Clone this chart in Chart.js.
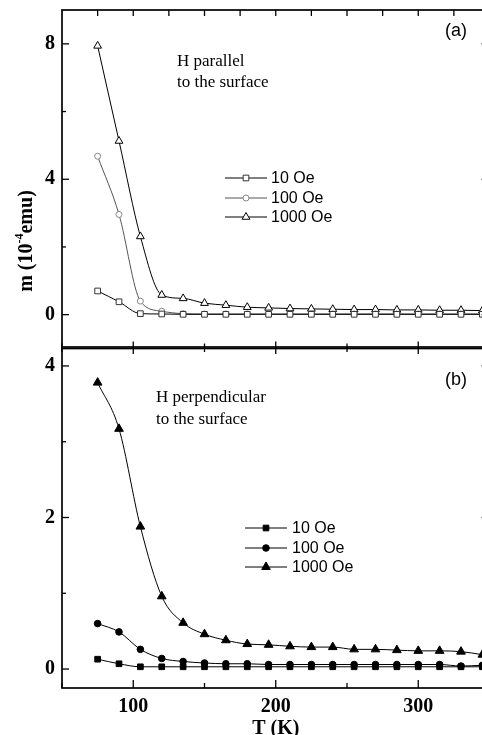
<!DOCTYPE html>
<html><head><meta charset="utf-8">
<script src="https://cdn.jsdelivr.net/npm/chart.js@4.4.0/dist/chart.umd.min.js"></script>
<style>
html,body{margin:0;padding:0;background:#fff;overflow:hidden;width:482px;height:735px;}
#cA{position:absolute;left:0;top:0;}
#cB{position:absolute;left:0;top:340px;}
</style></head><body>
<canvas id="cA" width="500" height="354"></canvas>
<canvas id="cB" width="500" height="395"></canvas>
<script>
// ---- data ----
const temperatures = [75,90,105,120,135,150,165,180,195,210,225,240,255,270,285,300,315,330,345];
const parallel10   = [0.70,0.38,0.03,0.02,0.01,0.01,0.01,0.01,0.01,0.01,0.01,0.01,0.01,0.01,0.01,0.01,0.01,0.01,0.01];
const parallel100  = [4.68,2.96,0.40,0.10,0.03,0.02,0.02,0.02,0.02,0.02,0.02,0.02,0.02,0.02,0.02,0.02,0.02,0.02,0.02];
const parallel1000 = [7.94,5.13,2.31,0.58,0.48,0.34,0.28,0.22,0.20,0.18,0.17,0.16,0.15,0.15,0.14,0.14,0.13,0.13,0.12];
const perp10   = [0.13,0.07,0.03,0.03,0.03,0.03,0.03,0.03,0.03,0.03,0.03,0.03,0.03,0.03,0.03,0.03,0.03,0.03,0.03];
const perp100  = [0.60,0.49,0.26,0.14,0.10,0.08,0.07,0.07,0.06,0.06,0.06,0.06,0.06,0.06,0.06,0.06,0.06,0.04,0.05];
const perp1000 = [3.78,3.17,1.88,0.96,0.61,0.46,0.38,0.33,0.32,0.30,0.29,0.29,0.26,0.26,0.25,0.24,0.24,0.23,0.19];
const seriesLabels = ['10 Oe','100 Oe','1000 Oe'];
const xTickLabels = [100,200,300];
const xMinorTicks = [50,150,250,350];
const topAxisTicksA = [75,100,125,150,175,200,225,250,275,300,325];
const yTicksA = [0,4,8];
const yMinorA = [2,6];
const yTicksB = [0,2,4];
const yMinorB = [1,3];

const SERIF = '"Liberation Serif", "Times New Roman", serif';
const SANS = '"Liberation Sans", Arial, sans-serif';

function pts(arr){ return temperatures.map((t,i)=>({x:t,y:arr[i]})); }
function ds(label, arr, style, r, line, pb, fill){
  return {label, data:pts(arr), borderColor:line, borderWidth:1, pointStyle:style, pointRadius:r,
    pointBorderColor:pb, pointBackgroundColor:fill, pointBorderWidth:1, cubicInterpolationMode:'monotone', fill:false};
}

function drawLine(ctx,x1,y1,x2,y2){ctx.beginPath();ctx.moveTo(x1,y1);ctx.lineTo(x2,y2);ctx.stroke();}

function makePlugin(cfg){
  return { id:'deco', afterDraw(chart){
    const ctx=chart.ctx, a=chart.chartArea, xs=chart.scales.x, ys=chart.scales.y;
    ctx.save();
    ctx.strokeStyle='#000'; ctx.lineWidth=1.7;
    ctx.strokeRect(a.left,a.top,a.right-a.left,a.bottom-a.top);
    ctx.lineWidth=1.3;
    cfg.yMajor.forEach(v=>{const y=ys.getPixelForValue(v); drawLine(ctx,a.left,y,a.left+7,y); drawLine(ctx,a.right,y,a.right-8,y);});
    cfg.yMinor.forEach(v=>{const y=ys.getPixelForValue(v); drawLine(ctx,a.left,y,a.left+4,y); drawLine(ctx,a.right,y,a.right-5,y);});
    cfg.topTicks.forEach(t=>{const x=xs.getPixelForValue(t.v); drawLine(ctx,x,a.top,x,a.top+t.l);});
    cfg.bottomTicks.forEach(t=>{const x=xs.getPixelForValue(t.v); drawLine(ctx,x,a.bottom,x,a.bottom-t.l);});
    // annotation
    ctx.fillStyle='#000'; ctx.textBaseline='middle'; ctx.textAlign='left';
    ctx.font='17px '+SERIF;
    cfg.note.forEach(n=>ctx.fillText(n.t,n.x,n.y));
    ctx.font='18px '+SANS;
    ctx.fillText(cfg.tag.t,cfg.tag.x,cfg.tag.y);
    // legend
    ctx.font='16px '+SANS;
    chart.data.datasets.forEach((d,i)=>{
      const y=cfg.leg.y[i];
      ctx.strokeStyle=d.borderColor; ctx.lineWidth=1;
      drawLine(ctx,cfg.leg.x1,y,cfg.leg.x2,y);
      ctx.fillStyle=d.pointBackgroundColor; ctx.strokeStyle=d.pointBorderColor; ctx.lineWidth=1;
      Chart.helpers.drawPoint(ctx,{pointStyle:d.pointStyle,radius:d.pointRadius,borderWidth:1,rotation:0},cfg.leg.mx,y);
      ctx.fillStyle='#000';
      ctx.fillText(d.label,cfg.leg.tx,y+1);
    });
    if(cfg.ytitle){
      const t=cfg.ytitle;
      ctx.translate(t.x,t.y); ctx.rotate(-Math.PI/2);
      ctx.fillStyle='#000'; ctx.textBaseline='middle'; ctx.textAlign='left';
      const f1='bold 20px '+SERIF, f2='bold 12px '+SERIF;
      ctx.font=f1; const w1=ctx.measureText('m (10').width, w3=ctx.measureText('emu)').width;
      ctx.font=f2; const w2=ctx.measureText('-4').width;
      let x=-(w1+w2+w3)/2;
      ctx.font=f1; ctx.fillText('m (10',x,0); x+=w1;
      ctx.font=f2; ctx.fillText('-4',x,-7); x+=w2;
      ctx.font=f1; ctx.fillText('emu)',x,0);
    }
    ctx.restore();
  }};
}

function yScale(min,max,ticks){
  return {type:'linear', min, max,
    afterBuildTicks:s=>{s.ticks=ticks.map(v=>({value:v}));},
    afterFit:s=>{s.width=62; s.paddingTop=0; s.paddingBottom=0;},
    grid:{display:false, drawTicks:false}, border:{display:false},
    ticks:{padding:7, color:'#000', font:{family:SERIF, size:20, weight:'bold'}}};
}

const major = xTickLabels.map(v=>({v,l:7}));
const minor = xMinorTicks.map(v=>({v,l:5}));

new Chart(document.getElementById('cA'),{
  type:'line',
  data:{datasets:[
    ds(seriesLabels[0],parallel10,'rect',4,'#000','#333','#fff'),
    ds(seriesLabels[1],parallel100,'circle',3,'#555','#888','#fff'),
    ds(seriesLabels[2],parallel1000,'triangle',4.5,'#000','#000','#fff')
  ]},
  options:{responsive:false, animation:false, layout:{padding:{top:10,right:10.5,bottom:1,left:0}},
    plugins:{legend:{display:false},tooltip:{enabled:false}},
    scales:{
      x:{type:'linear',min:50,max:350,display:false},
      y:yScale(-1,9,yTicksA)
    }},
  plugins:[makePlugin({yMajor:yTicksA,yMinor:yMinorA,
    topTicks:topAxisTicksA.map(v=>({v,l:6})),
    bottomTicks:major.concat(minor),
    note:[{t:'H parallel',x:177,y:62},{t:'to the surface',x:177,y:83}],
    tag:{t:'(a)',x:445,y:31},
    leg:{x1:225,x2:267,mx:246,tx:271,y:[178,198,217]},
    ytitle:{x:27,y:241}})]
});

new Chart(document.getElementById('cB'),{
  type:'line',
  data:{datasets:[
    ds(seriesLabels[0],perp10,'rect',4,'#000','#000','#000'),
    ds(seriesLabels[1],perp100,'circle',3.3,'#000','#000','#000'),
    ds(seriesLabels[2],perp1000,'triangle',5,'#000','#000','#000')
  ]},
  options:{responsive:false, animation:false, layout:{padding:{top:7,right:10.5,bottom:0,left:0}},
    plugins:{legend:{display:false},tooltip:{enabled:false}},
    scales:{
      x:{type:'linear',min:50,max:350,
        afterBuildTicks:s=>{s.ticks=xTickLabels.map(v=>({value:v}));},
        afterFit:s=>{s.height=47; s.paddingLeft=0; s.paddingRight=0;},
        grid:{display:false,drawTicks:false}, border:{display:false},
        ticks:{padding:7,color:'#000',maxRotation:0,font:{family:SERIF,size:20,weight:'bold'}},
        title:{display:true,text:'T (K)',color:'#000',padding:{top:0,bottom:0},font:{family:SERIF,size:20,weight:'bold',lineHeight:0.6}}},
      y:yScale(-0.25,4.25,yTicksB)
    }},
  plugins:[makePlugin({yMajor:yTicksB,yMinor:yMinorB,
    topTicks:major.concat(minor),
    bottomTicks:[{v:100,l:8},{v:200,l:8},{v:300,l:8}].concat(minor),
    note:[{t:'H perpendicular',x:156,y:58},{t:'to the surface',x:156,y:80}],
    tag:{t:'(b)',x:445,y:40},
    leg:{x1:245,x2:287,mx:266,tx:292,y:[188,208,227]}})]
});
</script>
</body></html>
